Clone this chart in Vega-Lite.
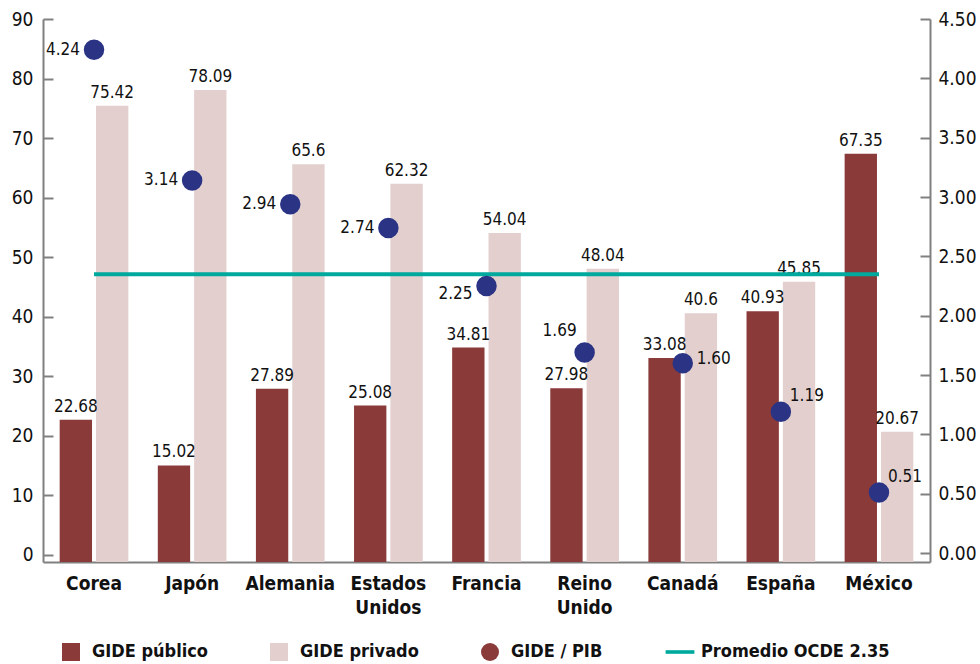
{
  "$schema": "https://vega.github.io/schema/vega-lite/v6.json",
  "width": 887,
  "height": 543,
  "autosize": {"type": "none"},
  "padding": {"left": 43, "top": 19, "right": 50, "bottom": 102},
  "background": "white",
  "config": {
    "view": {"stroke": null},
    "font": "'DejaVu Sans Condensed', 'Liberation Sans Narrow', sans-serif",
    "axis": {"grid": false, "title": null}
  },
  "data": {
    "values": [
      {"pais": "Corea", "publico": 22.68, "privado": 75.42, "pib": 4.24},
      {"pais": "Japón", "publico": 15.02, "privado": 78.09, "pib": 3.14},
      {"pais": "Alemania", "publico": 27.89, "privado": 65.6, "pib": 2.94},
      {"pais": "Estados Unidos", "publico": 25.08, "privado": 62.32, "pib": 2.74},
      {"pais": "Francia", "publico": 34.81, "privado": 54.04, "pib": 2.25},
      {"pais": "Reino Unido", "publico": 27.98, "privado": 48.04, "pib": 1.69},
      {"pais": "Canadá", "publico": 33.08, "privado": 40.6, "pib": 1.6},
      {"pais": "España", "publico": 40.93, "privado": 45.85, "pib": 1.19},
      {"pais": "México", "publico": 67.35, "privado": 20.67, "pib": 0.51}
    ]
  },
  "encoding": {
    "x": {
      "field": "pais",
      "type": "nominal",
      "sort": null,
      "scale": {
        "domain": ["Corea", "Japón", "Alemania", "Estados Unidos", "Francia", "Reino Unido", "Canadá", "España", "México"],
        "paddingInner": 0.3,
        "paddingOuter": 0.17
      },
      "axis": {
        "orient": "bottom",
        "labelExpr": "split(datum.label, ' ')",
        "labelFontSize": 19,
        "labelFontWeight": "bold",
        "labelColor": "#111111",
        "labelPadding": 12,
        "labelAngle": 0,
        "ticks": false,
        "domainColor": "#808080",
        "domainWidth": 2,
        "labelLineHeight": 24
      }
    }
  },
  "layer": [
    {
      "transform": [{"fold": ["publico", "privado"], "as": ["serie", "valor"]}],
      "layer": [
        {
          "mark": {"type": "bar"},
          "encoding": {
            "xOffset": {"field": "serie", "type": "nominal", "sort": ["publico", "privado"], "scale": {"paddingInner": 0.11}},
            "y": {
              "field": "valor",
              "type": "quantitative",
              "scale": {"domain": [-1.2, 90], "nice": false, "zero": false},
              "axis": {
                "orient": "left",
                "values": [0, 10, 20, 30, 40, 50, 60, 70, 80, 90],
                "labelFontSize": 19,
                "labelColor": "#111111",
                "tickSize": -10,
                "tickColor": "#808080",
                "tickWidth": 2,
                "labelPadding": 20,
                "domainColor": "#808080",
                "domainWidth": 2
              }
            },
            "y2": {"datum": -1.2},
            "color": {
              "field": "serie",
              "type": "nominal",
              "scale": {
                "domain": ["publico", "privado", "pib", "ocde"],
                "range": ["#8B3A3A", "#E2CFCE", "#8B3A3A", "#00A99D"]
              },
              "legend": {
                "orient": "none",
                "legendX": 19,
                "legendY": 624,
                "direction": "horizontal",
                "columns": 4,
                "gridAlign": "none",
                "columnPadding": 62,
                "title": null,
                "symbolSize": 324,
                "symbolStrokeWidth": 0,
                "labelFontSize": 18,
                "labelFontWeight": "bold",
                "labelColor": "#111111",
                "labelOffset": 12,
                "labelLimit": 300,
                "labelExpr": "{'publico': 'GIDE público', 'privado': 'GIDE privado', 'pib': 'GIDE / PIB', 'ocde': 'Promedio OCDE 2.35'}[datum.label]",
                "encode": {
                  "symbols": {
                    "update": {
                      "shape": {"signal": "datum.value === 'pib' ? 'circle' : datum.value === 'ocde' ? 'M-1.6,-0.2H1.6V0.2H-1.6Z' : 'square'"},
                      "strokeWidth": {"value": 0}
                    }
                  }
                }
              }
            }
          }
        },
        {
          "mark": {"type": "text", "dy": -13, "fontSize": 17, "color": "#111111"},
          "encoding": {
            "xOffset": {"field": "serie", "type": "nominal", "sort": ["publico", "privado"]},
            "y": {"field": "valor", "type": "quantitative"},
            "text": {"field": "valor", "type": "quantitative"}
          }
        }
      ]
    },
    {
      "layer": [
        {
          "mark": {"type": "line", "color": "#00A99D", "strokeWidth": 4},
          "encoding": {
            "y": {
              "datum": 2.35,
              "type": "quantitative",
              "scale": {"domain": [-0.075, 4.5], "nice": false, "zero": false},
              "axis": {
                "orient": "right",
                "values": [0, 0.5, 1, 1.5, 2, 2.5, 3, 3.5, 4, 4.5],
                "format": ".2f",
                "labelFontSize": 19,
                "labelColor": "#111111",
                "tickSize": -10,
                "tickColor": "#808080",
                "tickWidth": 2,
                "labelPadding": 18,
                "domainColor": "#808080",
                "domainWidth": 2
              }
            }
          }
        },
        {
          "mark": {"type": "circle", "size": 420, "color": "#2B3484", "opacity": 1},
          "encoding": {
            "y": {"field": "pib", "type": "quantitative"}
          }
        },
        {
          "transform": [{"filter": {"field": "pais", "oneOf": ["Corea", "Japón", "Alemania", "Estados Unidos"]}}],
          "mark": {"type": "text", "align": "right", "dx": -14, "fontSize": 17, "color": "#111111"},
          "encoding": {
            "y": {"field": "pib", "type": "quantitative"},
            "text": {"field": "pib", "type": "quantitative", "format": ".2f"}
          }
        },
        {
          "transform": [{"filter": {"field": "pais", "oneOf": ["Francia"]}}],
          "mark": {"type": "text", "align": "right", "dx": -14, "dy": 8, "fontSize": 17, "color": "#111111"},
          "encoding": {
            "y": {"field": "pib", "type": "quantitative"},
            "text": {"field": "pib", "type": "quantitative", "format": ".2f"}
          }
        },
        {
          "transform": [{"filter": {"field": "pais", "oneOf": ["Reino Unido"]}}],
          "mark": {"type": "text", "align": "right", "dx": -8, "dy": -22, "fontSize": 17, "color": "#111111"},
          "encoding": {
            "y": {"field": "pib", "type": "quantitative"},
            "text": {"field": "pib", "type": "quantitative", "format": ".2f"}
          }
        },
        {
          "transform": [{"filter": {"field": "pais", "oneOf": ["Canadá"]}}],
          "mark": {"type": "text", "align": "left", "dx": 14, "dy": -4, "fontSize": 17, "color": "#111111"},
          "encoding": {
            "y": {"field": "pib", "type": "quantitative"},
            "text": {"field": "pib", "type": "quantitative", "format": ".2f"}
          }
        },
        {
          "transform": [{"filter": {"field": "pais", "oneOf": ["España", "México"]}}],
          "mark": {"type": "text", "align": "left", "dx": 9, "dy": -16, "fontSize": 17, "color": "#111111"},
          "encoding": {
            "y": {"field": "pib", "type": "quantitative"},
            "text": {"field": "pib", "type": "quantitative", "format": ".2f"}
          }
        }
      ]
    }
  ],
  "resolve": {"scale": {"y": "independent"}}
}
